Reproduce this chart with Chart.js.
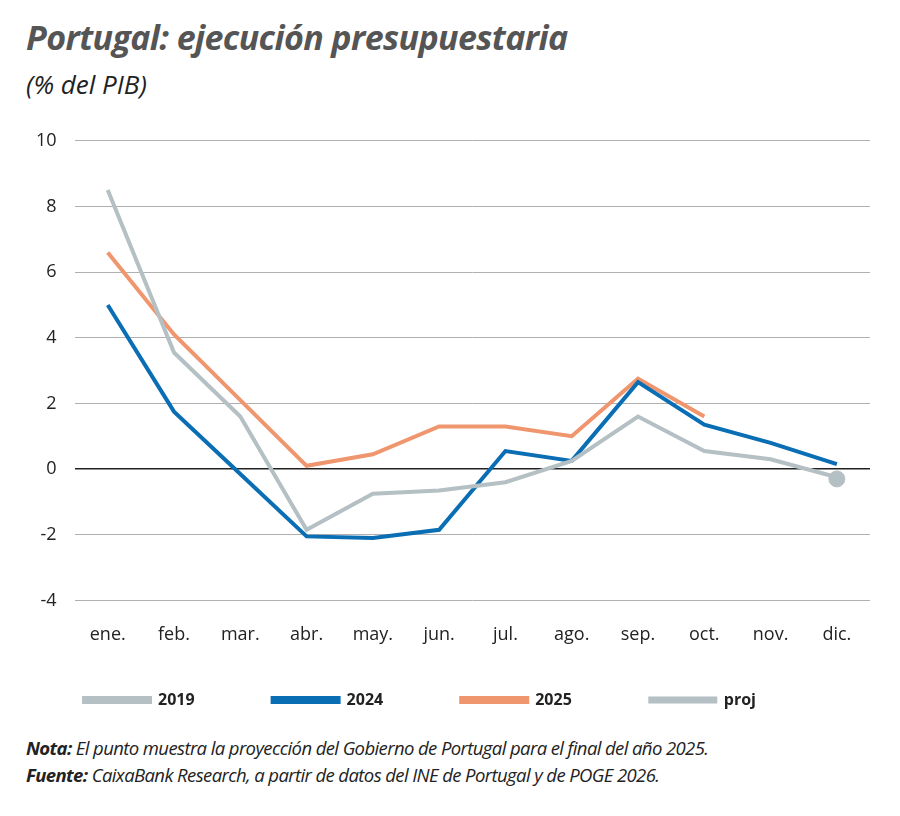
<!DOCTYPE html>
<html><head><meta charset="utf-8">
<script src="https://cdn.jsdelivr.net/npm/chart.js@4"></script>
<style>
body{margin:0;background:#fff;font-family:"Open Sans",sans-serif;color:#222}
#t{position:absolute;left:26px;top:14px;font-size:34px;font-weight:700;font-style:italic;color:#555;letter-spacing:-0.6px}
#s{position:absolute;left:26px;top:66px;font-size:26px;font-style:italic;color:#222}
#c{position:absolute;left:0;top:112px;width:900px;height:606px}
.n{position:absolute;left:26px;font-size:18.5px;font-style:italic;letter-spacing:-0.6px}
</style></head><body>
<div id="t">Portugal: ejecución presupuestaria</div>
<div id="s">(% del PIB)</div>
<div id="c"><canvas id="cv"></canvas></div>
<div class="n" style="top:735px"><b>Nota:</b> El punto muestra la proyección del Gobierno de Portugal para el final del año 2025.</div>
<div class="n" style="top:762px"><b>Fuente:</b> CaixaBank Research, a partir de datos del INE de Portugal  y de POGE 2026.</div>
<script>
const categories=["ene.","feb.","mar.","abr.","may.","jun.","jul.","ago.","sep.","oct.","nov.","dic."];
const s2019=[8.5,3.55,1.6,-1.85,-0.75,-0.65,-0.4,0.25,1.6,0.55,0.3,-0.25];
const s2024=[5.0,1.75,-0.15,-2.05,-2.1,-1.85,0.55,0.25,2.65,1.35,0.8,0.15];
const s2025=[6.6,4.1,2.1,0.1,0.45,1.3,1.3,1.0,2.75,1.6,null,null];
const projection=[null,null,null,null,null,null,null,null,null,null,null,-0.3];
const cGray="#b4c0c3",cBlue="#0a6eb4",cOr="#f0966e";
const ln=(label,data,c)=>({label,data,borderColor:c,backgroundColor:c,borderWidth:4,pointRadius:0,tension:0,fill:false});
new Chart(document.getElementById("cv"),{type:"line",
data:{labels:categories,datasets:[ln("2019",s2019,cGray),ln("2024",s2024,cBlue),ln("2025",s2025,cOr),
{label:"proj",data:projection,showLine:false,pointRadius:8,pointBackgroundColor:cGray,pointBorderColor:cGray,borderColor:cGray,backgroundColor:cGray}]},
options:{responsive:true,maintainAspectRatio:false,animation:false,
layout:{padding:{left:18,right:30,top:12,bottom:0}},
plugins:{legend:{position:"bottom",labels:{filter:i=>i.text!=="proj",
generateLabels:ch=>Chart.defaults.plugins.legend.labels.generateLabels(ch).map(l=>({...l,text:l.text+"\u2003\u2003\u2003"})),
boxWidth:66,boxHeight:4,padding:30,font:{family:"Open Sans",size:16,weight:"bold"},color:"#222"}},tooltip:{enabled:false}},
scales:{y:{min:-4,max:10,ticks:{stepSize:2,font:{family:"Open Sans",size:18},color:"#222",padding:18},border:{display:false},
grid:{color:c=>c.tick.value===0?"#222":"#b0b0b0",lineWidth:c=>c.tick.value===0?1.5:1,drawTicks:false}},
x:{offset:true,ticks:{font:{family:"Open Sans",size:18},color:"#222",padding:16},grid:{display:false},border:{display:false}}}}});
</script></body></html>
